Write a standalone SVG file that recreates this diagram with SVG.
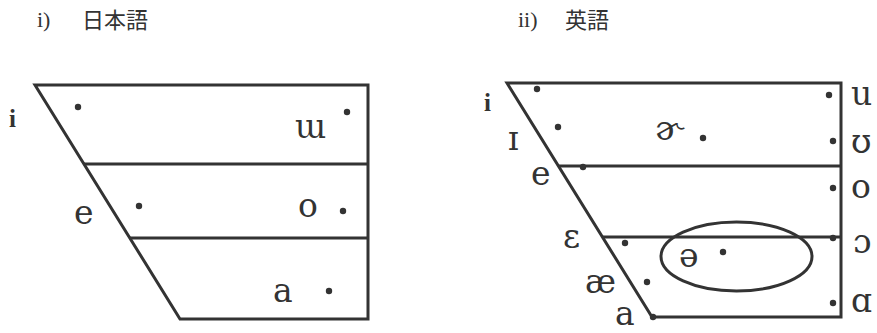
<svg xmlns="http://www.w3.org/2000/svg" width="877" height="333" viewBox="0 0 877 333">
<style>
.frame{fill:none;stroke:#333;stroke-width:3;stroke-linejoin:miter}
.ln{stroke:#333;stroke-width:3}
.dot{fill:#333}
.ipa{font-family:"DejaVu Serif","Liberation Serif",serif;font-size:33px;fill:#333}
.ii{font-family:"Liberation Serif",serif;font-size:25px;font-weight:bold;fill:#333}
.ttl{font-family:"Liberation Serif",serif;font-size:22px;fill:#333}
.cjk{font-family:"Noto Sans CJK JP",sans-serif;font-size:22px;font-weight:400;fill:#333}
</style>
<rect width="877" height="333" fill="#fff"/>
<g id="title-ja">
<text class="ttl" x="37" y="27">i)</text>
<text class="cjk" x="82" y="28">日本語</text>
</g>
<g id="title-en">
<text class="ttl" x="518" y="27">ii)</text>
<text class="cjk" x="565" y="28">英語</text>
</g>
<g id="chart-ja">
<path class="frame" d="M35,85 H368 V319 H180 Z"/>
<line class="ln" x1="84" y1="164" x2="368" y2="164"/>
<line class="ln" x1="130" y1="238" x2="368" y2="238"/>
<circle class="dot" cx="78" cy="107" r="3.2"/>
<circle class="dot" cx="347" cy="112" r="3.2"/>
<circle class="dot" cx="139" cy="206" r="3.2"/>
<circle class="dot" cx="343" cy="211" r="3.2"/>
<circle class="dot" cx="329" cy="291" r="3.2"/>
<text class="ii" x="9" y="127">i</text>
<text class="ipa" x="295" y="138">ɯ</text>
<text class="ipa" x="74" y="224">e</text>
<text class="ipa" x="298" y="217">o</text>
<text class="ipa" x="273" y="302">a</text>
</g>
<g id="chart-en">
<path class="frame" d="M507,83 H841 V317 H652 Z"/>
<line class="ln" x1="558" y1="166" x2="841" y2="166"/>
<line class="ln" x1="602" y1="237" x2="841" y2="237"/>
<ellipse class="frame" cx="736.5" cy="256.5" rx="75.5" ry="34.5"/>
<circle class="dot" cx="537" cy="89" r="3.2"/>
<circle class="dot" cx="558" cy="127" r="3.2"/>
<circle class="dot" cx="703" cy="138" r="3.2"/>
<circle class="dot" cx="829" cy="95" r="3.2"/>
<circle class="dot" cx="833" cy="141" r="3.2"/>
<circle class="dot" cx="583" cy="167" r="3.2"/>
<circle class="dot" cx="833" cy="188" r="3.2"/>
<circle class="dot" cx="833" cy="238" r="3.2"/>
<circle class="dot" cx="625" cy="243" r="3.2"/>
<circle class="dot" cx="723" cy="252" r="3.2"/>
<circle class="dot" cx="647" cy="282" r="3.2"/>
<circle class="dot" cx="833" cy="303" r="3.2"/>
<circle class="dot" cx="653" cy="317" r="3.2"/>
<text class="ii" x="484" y="111">i</text>
<text class="ipa" x="508" y="150">ɪ</text>
<text class="ipa" x="531" y="185">e</text>
<text class="ipa" x="563" y="248">ɛ</text>
<text class="ipa" x="585" y="293">æ</text>
<text class="ipa" x="615" y="325">a</text>
<text class="ipa" x="655" y="140">ɚ</text>
<text class="ipa" x="679" y="267">ə</text>
<text class="ipa" x="851" y="105">u</text>
<text class="ipa" x="851" y="153">ʊ</text>
<text class="ipa" x="851" y="198">o</text>
<text class="ipa" x="853" y="253">ɔ</text>
<text class="ipa" x="851" y="312">ɑ</text>
</g>
</svg>
